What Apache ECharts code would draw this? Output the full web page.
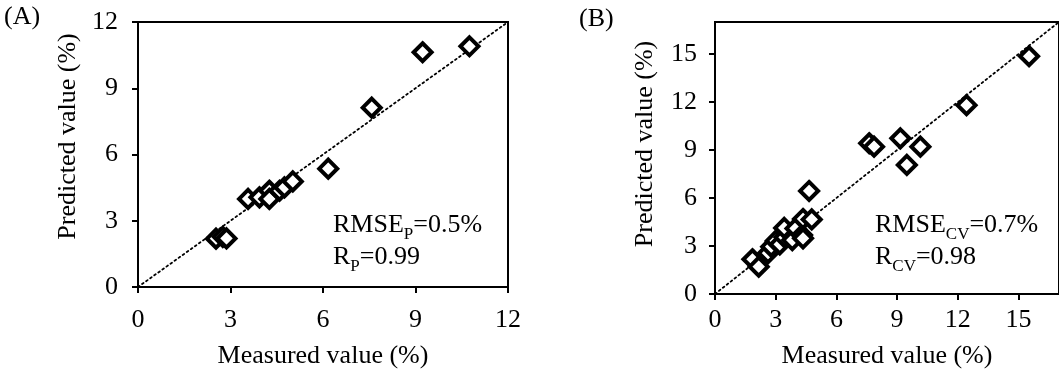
<!DOCTYPE html>
<html>
<head>
<meta charset="utf-8">
<script src="https://cdn.jsdelivr.net/npm/echarts@6/dist/echarts.min.js"></script>
<style>
  html, body { margin: 0; padding: 0; background: #fff; }
  #chart { width: 1059px; height: 374px; }
</style>
</head>
<body>
<div id="chart"></div>
<script>
// Panel A: prediction set (measured %, predicted %)
const predictionSet = [
  [2.53, 2.19], [2.75, 2.27], [2.87, 2.20],
  [3.57, 3.99], [3.94, 4.06], [4.26, 4.36], [4.26, 3.99],
  [4.59, 4.36], [4.75, 4.51], [5.02, 4.78],
  [6.17, 5.36], [7.58, 8.12], [9.23, 10.63], [10.75, 10.90]
];
// Panel B: cross-validation set (measured %, predicted %)
const crossValidationSet = [
  [1.85, 2.17], [2.16, 1.71], [2.62, 2.55], [2.78, 2.96],
  [3.00, 3.32], [3.20, 3.10], [3.44, 3.54], [3.42, 4.13],
  [3.82, 3.37], [3.98, 4.10], [4.30, 3.68], [4.35, 3.48],
  [4.35, 4.69], [4.78, 4.66], [4.65, 6.44],
  [7.62, 9.42], [7.86, 9.21], [9.16, 9.73], [9.48, 8.07],
  [10.15, 9.21], [12.43, 11.80], [15.52, 14.86]
];
// 1:1 reference lines
const identityA = [[0, 0], [12, 12]];
const identityB = [[0, 0], [17, 17]];
// Axis ticks
const ticksA = [0, 3, 6, 9, 12];
const ticksB = [0, 3, 6, 9, 12, 15];
// Statistics shown in each panel
const statsA = { rmseSub: 'P', rmse: '0.5%', rSub: 'P', r: '0.99' };
const statsB = { rmseSub: 'CV', rmse: '0.7%', rSub: 'CV', r: '0.98' };

const FONT = '"Liberation Serif", "Times New Roman", serif';
const black = '#000';

function valueAxis(gridIndex, max, ticks, name, opts) {
  return {
    gridIndex: gridIndex,
    type: 'value',
    min: 0,
    max: max,
    interval: 3,
    name: name,
    nameLocation: 'middle',
    nameGap: opts.nameGap,
    nameTextStyle: { fontFamily: FONT, fontSize: 26, color: black, padding: opts.namePadding || 0 },
    axisLine: { show: true, onZero: false, lineStyle: { color: black, width: 2 } },
    axisTick: { show: true, inside: false, length: 6, customValues: ticks,
                lineStyle: { color: black, width: 2 } },
    axisLabel: { show: true, customValues: ticks, margin: opts.labelMargin,
                 fontFamily: FONT, fontSize: 26, color: black },
    splitLine: { show: false }
  };
}

function statsText(s) {
  return '{n|RMSE}{s|' + s.rmseSub + '}{n|=' + s.rmse + '}\n{n|R}{s|' + s.rSub + '}{n|=' + s.r + '}';
}
const richStats = {
  n: { fontFamily: FONT, fontSize: 26, fontWeight: 'normal', color: black, lineHeight: 32, verticalAlign: 'bottom' },
  s: { fontFamily: FONT, fontSize: 17, fontWeight: 'normal', color: black, lineHeight: 32, verticalAlign: 'bottom', padding: [0, 0, -5, 0] }
};
const panelLabelStyle = { fontFamily: FONT, fontSize: 26, fontWeight: 'normal', color: black };

const chart = echarts.init(document.getElementById('chart'), null, { renderer: 'canvas' });
chart.setOption({
  animation: false,
  backgroundColor: '#fff',
  title: [
    { text: '(A)', left: 4, top: 4, padding: 0, textStyle: panelLabelStyle },
    { text: '(B)', left: 579, top: 6, padding: 0, textStyle: panelLabelStyle },
    { text: statsText(statsA), left: 333, top: 206, padding: 0,
      textStyle: { fontWeight: 'normal', rich: richStats } },
    { text: statsText(statsB), left: 875, top: 206, padding: 0,
      textStyle: { fontWeight: 'normal', rich: richStats } }
  ],
  grid: [
    { left: 138, top: 22, width: 370, height: 267, show: true, borderColor: black, borderWidth: 2 },
    { left: 715, top: 22, width: 353, height: 274, show: true, borderColor: black, borderWidth: 2 }
  ],
  xAxis: [
    valueAxis(0, 12, ticksA, 'Measured value (%)', { nameGap: 56, labelMargin: 20 }),
    valueAxis(1, 17, ticksB, 'Measured value (%)', { nameGap: 49, labelMargin: 13 })
  ],
  yAxis: [
    valueAxis(0, 12, ticksA, 'Predicted value (%)', { nameGap: 57, labelMargin: 20, namePadding: [0, 0, 0, 36] }),
    valueAxis(1, 17, ticksB, 'Predicted value (%)', { nameGap: 57, labelMargin: 18, namePadding: [0, 0, 0, 28] })
  ],
  series: [
    { type: 'line', xAxisIndex: 0, yAxisIndex: 0, data: identityA, symbol: 'none', z: 1,
      lineStyle: { color: black, width: 1.8, type: [1.8, 3.2], cap: 'round' } },
    { type: 'line', xAxisIndex: 1, yAxisIndex: 1, data: identityB, symbol: 'none', z: 1,
      lineStyle: { color: black, width: 1.8, type: [1.8, 3.2], cap: 'round' } },
    { type: 'scatter', xAxisIndex: 0, yAxisIndex: 0, data: predictionSet, symbol: 'diamond',
      symbolSize: 18, z: 3,
      itemStyle: { color: '#fff', borderColor: black, borderWidth: 4, opacity: 1 } },
    { type: 'scatter', xAxisIndex: 1, yAxisIndex: 1, data: crossValidationSet, symbol: 'diamond',
      symbolSize: 18, z: 3,
      itemStyle: { color: '#fff', borderColor: black, borderWidth: 4, opacity: 1 } }
  ]
});
</script>
</body>
</html>
